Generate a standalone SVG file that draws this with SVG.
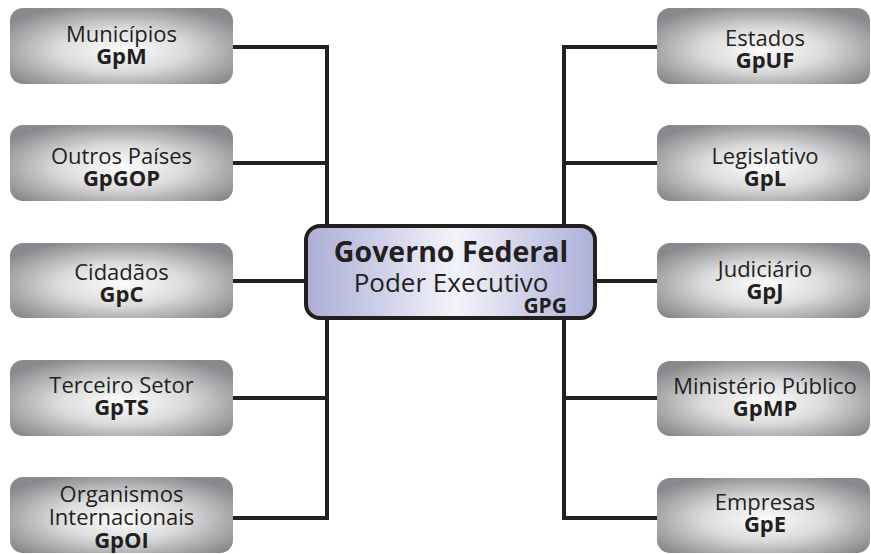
<svg xmlns="http://www.w3.org/2000/svg" width="871" height="554" viewBox="0 0 871 554">
<defs>
<radialGradient id="gray" cx="0.5" cy="0.55" r="0.62">
<stop offset="0" stop-color="#fcfcfc"/>
<stop offset="0.45" stop-color="#dcdcdd"/>
<stop offset="1" stop-color="#88898c"/>
</radialGradient>
<linearGradient id="lav" x1="0" y1="0" x2="1" y2="0">
<stop offset="0" stop-color="#abadd6"/>
<stop offset="0.52" stop-color="#f3f3fa"/>
<stop offset="1" stop-color="#adafd7"/>
</linearGradient>
</defs>
<style>
.box{fill:url(#gray);}
.t{font-family:"Open Sans","DejaVu Sans",sans-serif;font-size:22px;fill:#231f20;text-anchor:middle;}
.b{font-weight:bold;font-size:22px;}
.ln{stroke:#231f20;stroke-width:4;fill:none;}
</style>
<g id="connectors" class="ln">
<path d="M233 47H327V518H233M233 163H327M233 281H306M233 398H327"/>
<path d="M657 47H564V518H657M657 163H564M657 281H595M657 398H564"/>
</g>
<g id="municipios"><rect class="box" x="10" y="8" width="223" height="76" rx="13"/><text class="t" x="121.5" y="42">Municípios</text><text class="t b" x="121.5" y="64">GpM</text></g>
<g id="outros-paises"><rect class="box" x="10" y="125" width="223" height="76" rx="13"/><text class="t" x="121.5" y="164">Outros Países</text><text class="t b" x="121.5" y="186">GpGOP</text></g>
<g id="cidadaos"><rect class="box" x="10" y="243" width="223" height="75" rx="13"/><text class="t" x="121.5" y="280">Cidadãos</text><text class="t b" x="121.5" y="302">GpC</text></g>
<g id="terceiro-setor"><rect class="box" x="10" y="360" width="223" height="76" rx="13"/><text class="t" x="121.5" y="393">Terceiro Setor</text><text class="t b" x="121.5" y="415">GpTS</text></g>
<g id="organismos"><rect class="box" x="10" y="477" width="223" height="76" rx="13"/><text class="t" x="121.5" y="502">Organismos</text><text class="t" x="121.5" y="525">Internacionais</text><text class="t b" x="121.5" y="548">GpOI</text></g>
<g id="estados"><rect class="box" x="657" y="8" width="213" height="76" rx="13"/><text class="t" x="765" y="46">Estados</text><text class="t b" x="765" y="68">GpUF</text></g>
<g id="legislativo"><rect class="box" x="657" y="125" width="213" height="76" rx="13"/><text class="t" x="765" y="164">Legislativo</text><text class="t b" x="765" y="186">GpL</text></g>
<g id="judiciario"><rect class="box" x="657" y="243" width="213" height="75" rx="13"/><text class="t" x="765" y="277">Judiciário</text><text class="t b" x="765" y="299">GpJ</text></g>
<g id="ministerio-publico"><rect class="box" x="657" y="361" width="213" height="75" rx="13"/><text class="t" x="765" y="394">Ministério Público</text><text class="t b" x="765" y="416">GpMP</text></g>
<g id="empresas"><rect class="box" x="657" y="478" width="213" height="75" rx="13"/><text class="t" x="765" y="510">Empresas</text><text class="t b" x="765" y="532">GpE</text></g>
<g id="governo-federal">
<rect x="306" y="226" width="289" height="92" rx="14" fill="url(#lav)" stroke="#231f20" stroke-width="4"/>
<text class="t" x="451" y="262" style="font-size:28.5px;font-weight:bold">Governo Federal</text>
<text class="t" x="451" y="292" style="font-size:26px">Poder Executivo</text>
<text class="t b" x="567" y="313" style="text-anchor:end;font-size:21px">GPG</text>
</g>
</svg>
